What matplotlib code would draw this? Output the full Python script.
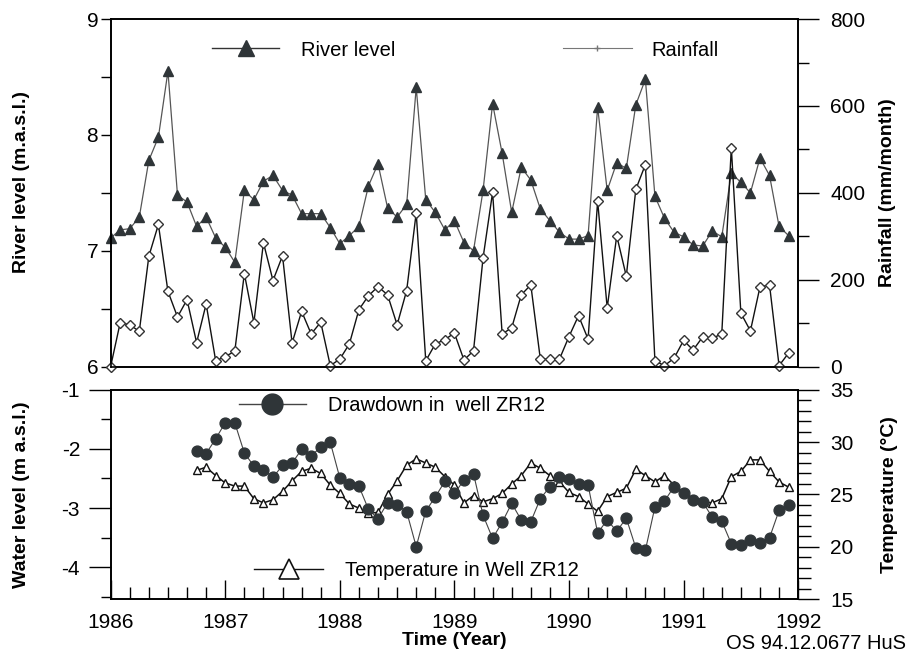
import numpy as np
import matplotlib
matplotlib.use("Agg")
import matplotlib.pyplot as plt
from matplotlib.lines import Line2D
from matplotlib.ticker import MultipleLocator

plt.rcParams['font.family'] = ['Liberation Sans', 'DejaVu Sans']
plt.rcParams['axes.unicode_minus'] = False

# monthly values, Jan 1986 - Dec 1991
river_level = [7.11, 7.18, 7.19, 7.29, 7.78, 7.98, 8.55, 7.48, 7.42, 7.21, 7.29, 7.11,
               7.03, 6.90, 7.52, 7.44, 7.60, 7.65, 7.52, 7.48, 7.32, 7.32, 7.32, 7.20,
               7.06, 7.13, 7.21, 7.56, 7.75, 7.37, 7.29, 7.40, 8.41, 7.44, 7.33, 7.18,
               7.26, 7.07, 7.00, 7.52, 8.27, 7.84, 7.33, 7.72, 7.61, 7.36, 7.26, 7.16,
               7.10, 7.10, 7.13, 8.24, 7.52, 7.76, 7.71, 8.26, 8.48, 7.47, 7.28, 7.16,
               7.12, 7.05, 7.04, 7.17, 7.12, 7.67, 7.59, 7.50, 7.80, 7.65, 7.21, 7.13]
rainfall = [0, 101, 96, 81, 254, 327, 173, 114, 154, 55, 144, 13,
            23, 35, 214, 101, 285, 198, 255, 54, 127, 75, 102, 2,
            17, 52, 131, 163, 184, 165, 96, 175, 354, 13, 52, 62,
            77, 15, 36, 250, 401, 75, 89, 165, 188, 17, 17, 17,
            69, 117, 63, 381, 135, 301, 208, 408, 465, 13, 2, 19,
            60, 38, 68, 65, 75, 504, 123, 82, 183, 188, 2, 31]

# monthly values, Oct 1986 - Dec 1991
drawdown = [-2.04, -2.08, -1.83,
            -1.56, -1.56, -2.07, -2.29, -2.35, -2.48, -2.28, -2.24, -2.01, -2.12, -1.97, -1.89,
            -2.49, -2.59, -2.63, -3.02, -3.18, -2.91, -2.94, -3.06, -3.65, -3.05, -2.81, -2.55,
            -2.75, -2.53, -2.42, -3.12, -3.51, -3.24, -2.92, -3.20, -3.23, -2.84, -2.64, -2.47,
            -2.51, -2.59, -2.61, -3.42, -3.20, -3.39, -3.17, -3.67, -3.71, -2.98, -2.88, -2.64,
            -2.75, -2.87, -2.90, -3.15, -3.22, -3.60, -3.63, -3.54, -3.58, -3.50, -3.04, -2.95]
temperature = [27.3, 27.6, 26.8,
               26.1, 25.8, 25.8, 24.6, 24.2, 24.5, 25.3, 26.3, 27.2, 27.5, 27.0, 25.9,
               25.1, 24.1, 23.7, 23.2, 23.3, 25.0, 26.3, 27.8, 28.4, 28.0, 27.6, 26.7,
               25.9, 24.2, 24.9, 24.3, 24.6, 25.1, 26.0, 26.8, 28.0, 27.5, 26.8, 26.2,
               25.2, 24.8, 24.1, 23.4, 24.8, 25.2, 25.6, 27.4, 26.8, 26.2, 26.8, 25.9,
               25.2, 24.6, 24.3, 24.2, 24.6, 26.7, 27.2, 28.3, 28.3, 27.2, 26.2, 25.7]

years = [1986, 1987, 1988, 1989, 1990, 1991, 1992]

t_river = years[0] + np.arange(len(river_level)) / 12
t_well = years[0] + (9 + np.arange(len(drawdown))) / 12

dark = '#2f3538'

fig = plt.figure(figsize=(9.07, 6.58), dpi=100)
ax1 = fig.add_axes([0.122, 0.443, 0.758, 0.528])
ax1r = ax1.twinx()
ax2 = fig.add_axes([0.122, 0.089, 0.758, 0.319])
ax2r = ax2.twinx()

# top panel
ax1.plot(t_river, river_level, color='#555555', lw=0.9, marker='^', ms=6.5,
         mfc=dark, mec=dark, clip_on=False)
ax1r.plot(t_river, rainfall, color='#111111', lw=1.0, marker='D', ms=5.2,
          mfc='white', mec='#333333', mew=1.0, clip_on=False)

ax1.set_xlim(years[0], years[-1])
ax1.tick_params(axis='x', bottom=False, labelbottom=False)
ax1.set_ylim(6, 9)
ax1.yaxis.set_major_locator(MultipleLocator(1))
ax1.yaxis.set_minor_locator(MultipleLocator(0.5))
ax1.tick_params(axis='y', which='both', direction='out', length=7, width=1,
                labelsize=15, pad=2)
ax1r.set_ylim(0, 800)
ax1r.yaxis.set_major_locator(MultipleLocator(200))
ax1r.yaxis.set_minor_locator(MultipleLocator(100))
ax1r.tick_params(axis='y', which='major', direction='out', length=15, width=1,
                 labelsize=15, pad=8)
ax1r.tick_params(axis='y', which='minor', direction='out', length=8, width=1)

ax1.set_ylabel('River level (m.a.s.l.)', fontsize=14, fontweight='bold')
ax1.yaxis.set_label_coords(-0.118, 0.53)
ax1r.set_ylabel('Rainfall (mm/month)', fontsize=14, fontweight='bold')
ax1r.yaxis.set_label_coords(1.117, 0.5)

h_river = Line2D([], [], color='#333333', lw=1.0, marker='^', ms=11, mfc=dark, mec=dark)
leg = ax1r.legend([h_river], ['River level'], loc='center left',
                  bbox_to_anchor=(0.148, 0.911), frameon=False, fontsize=14.5,
                  handlelength=3.3, handletextpad=1.1, borderpad=0, borderaxespad=0)
ax1r.add_artist(leg)
h_rain = Line2D([], [], color='#777777', lw=0.8, marker='+', ms=4, mec='#777777')
ax1r.legend([h_rain], ['Rainfall'], loc='center left',
            bbox_to_anchor=(0.658, 0.911), frameon=False, fontsize=14.5,
            handlelength=3.4, handletextpad=1.0, borderpad=0, borderaxespad=0)

# bottom panel
ax2r.plot(t_well, temperature, color='#111111', lw=1.1, marker='^', ms=6.2,
          mfc='white', mec='#111111', mew=1.0, zorder=2)
ax2.plot(t_well, drawdown, color='#444444', lw=0.8, marker='o', ms=7.8,
         mfc=dark, mec=dark, zorder=3)
ax2.set_zorder(ax2r.get_zorder() + 1)
ax2.patch.set_visible(False)

ax2.set_xlim(years[0], years[-1])
ax2.set_xticks(years)
ax2.set_xticklabels([str(y) for y in years])
ax2.xaxis.set_minor_locator(MultipleLocator(1 / 6))
ax2.tick_params(axis='x', which='major', direction='in', length=14, width=1,
                labelsize=15, pad=10)
ax2.tick_params(axis='x', which='minor', direction='in', length=8.5, width=1)
ax2.set_ylim(-4.54, -1)
ax2.yaxis.set_major_locator(MultipleLocator(1))
ax2.yaxis.set_minor_locator(MultipleLocator(0.5))
ax2.tick_params(axis='y', which='major', direction='out', length=16, width=1,
                labelsize=15, pad=6)
ax2.tick_params(axis='y', which='minor', direction='out', length=7, width=1)
ax2r.set_ylim(15, 35)
ax2r.yaxis.set_major_locator(MultipleLocator(5))
ax2r.yaxis.set_minor_locator(MultipleLocator(1))
ax2r.tick_params(axis='y', which='major', direction='out', length=15, width=1,
                 labelsize=15, pad=8)
ax2r.tick_params(axis='y', which='minor', direction='out', length=9, width=1)

ax2.set_xlabel('Time (Year)', fontsize=14, fontweight='bold', labelpad=0)
ax2.set_ylabel('Water level (m a.s.l.)', fontsize=14, fontweight='bold')
ax2.yaxis.set_label_coords(-0.118, 0.5)
ax2r.set_ylabel('Temperature (°C)', fontsize=14, fontweight='bold')
ax2r.yaxis.set_label_coords(1.12, 0.5)

h_draw = Line2D([], [], color='#444444', lw=1.0, marker='o', ms=15, mfc=dark, mec=dark)
leg = ax2.legend([h_draw], ['Drawdown in  well ZR12'], loc='center left',
                 bbox_to_anchor=(0.187, 0.925), frameon=False, fontsize=14.5,
                 handlelength=3.3, handletextpad=1.1, borderpad=0, borderaxespad=0)
ax2.add_artist(leg)
h_temp = Line2D([], [], color='#111111', lw=1.0, marker='^', ms=14, mfc='white',
                mec='#111111', mew=1.2)
ax2.legend([h_temp], ['Temperature in Well ZR12'], loc='center left',
           bbox_to_anchor=(0.209, 0.14), frameon=False, fontsize=14.5,
           handlelength=3.4, handletextpad=1.1, borderpad=0, borderaxespad=0)

for ax in (ax1, ax1r, ax2, ax2r):
    for s in ax.spines.values():
        s.set_linewidth(1.2)

fig.text(0.999, 0.008, 'OS 94.12.0677 HuS', ha='right', va='bottom', fontsize=14.5)

fig.savefig('out.png', dpi=100)
